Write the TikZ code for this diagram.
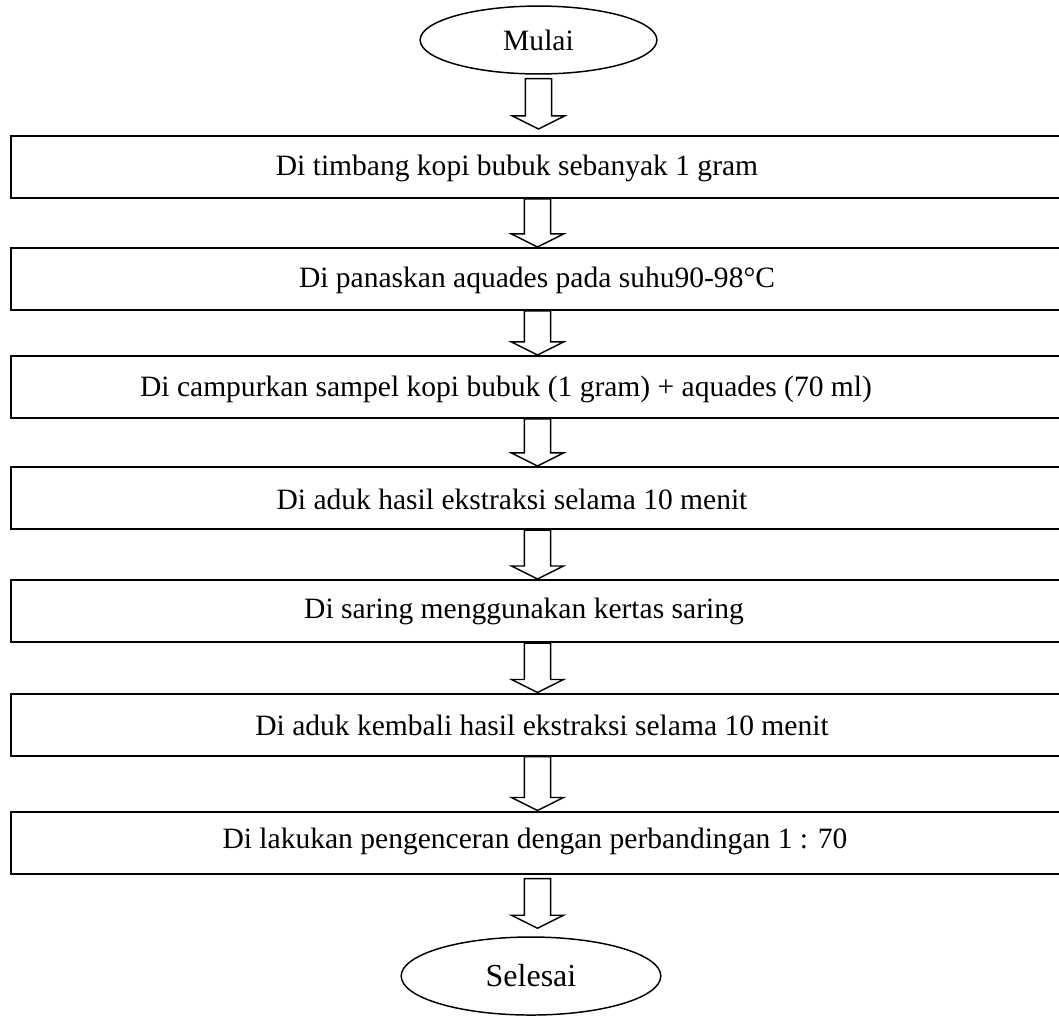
\documentclass[tikz,border=0pt]{standalone}
\usepackage{fontspec}
\setmainfont{Liberation Serif}
\usetikzlibrary{shapes.geometric,calc}

\tikzset{
  stepbox/.style={draw,line width=0.8pt,minimum width=428.1pt,minimum height=25.2pt,inner sep=0pt},
  steptext/.style={font=\fontsize{12}{14}\selectfont,inner sep=0pt},
  terminal/.style={draw,ellipse,line width=0.6pt,inner sep=0pt},
  hollowarrow/.style={draw,line width=0.6pt,fill=white,line join=miter},
}

% block arrow from #1 down to #2
\newcommand{\flowarrow}[2]{%
  \draw[hollowarrow] let \p1=(#1), \p2=(#2) in
    (\x1-5.3pt,\y1) -- (\x1-5.3pt,\y2+5.3pt) -- (\x1-10.6pt,\y2+5.3pt) -- (\x1,\y2)
    -- (\x1+10.6pt,\y2+5.3pt) -- (\x1+5.3pt,\y2+5.3pt) -- (\x1+5.3pt,\y1) -- cycle;}

\begin{document}
\begin{tikzpicture}[x=0.014283cm,y=-0.014283cm]
      \useasboundingbox (0,0) rectangle (1059,1018);
      \clip (0,0) rectangle (1059,1018);
      \node[terminal,minimum width=96.2pt,minimum height=27.6pt,font=\fontsize{12}{14}\selectfont] (mulai) at (538.5,40) {Mulai};
      \node[stepbox] (p1) at (537.5,167) {};
      \node[stepbox] (p2) at (537.5,279) {};
      \node[stepbox] (p3) at (537.5,387) {};
      \node[stepbox] (p4) at (537.5,498) {};
      \node[stepbox] (p5) at (537.5,611) {};
      \node[stepbox] (p6) at (537.5,724.5) {};
      \node[stepbox] (p7) at (537.5,842.5) {};
      \node[terminal,minimum width=105.5pt,minimum height=31.7pt,font=\fontsize{13}{15}\selectfont] (selesai) at (531,976) {Selesai};
      \node[steptext] (t1) at (517,168) {Di timbang kopi bubuk sebanyak 1 gram};
      \node[steptext] (t2) at (537,280) {Di panaskan aquades pada suhu90-98\textdegree C};
      \node[steptext] (t3) at (506,389) {Di campurkan sampel kopi bubuk (1 gram) + aquades (70 ml)};
      \node[steptext] (t4) at (512,499) {Di aduk hasil ekstraksi selama 10 menit};
      \node[steptext] (t5) at (524,611) {Di saring menggunakan kertas saring};
      \node[steptext] (t6) at (542,725) {Di aduk kembali hasil ekstraksi selama 10 menit};
      \node[steptext] (t7) at (535,841) {Di lakukan pengenceran dengan perbandingan 1 : 70};
      \begin{scope}
        \flowarrow{$(mulai.south)+(0,4)$}{$(p1.north)+(0,-6)$}
        \flowarrow{p1.south}{p2.north}
        \flowarrow{p2.south}{p3.north}
        \flowarrow{p3.south}{p4.north}
        \flowarrow{p4.south}{p5.north}
        \flowarrow{p5.south}{p6.north}
        \flowarrow{p6.south}{p7.north}
        \flowarrow{$(p7.south)+(0,4)$}{$(selesai.north)+(0,-8)$}
      \end{scope}
    \end{tikzpicture}
\end{document}
